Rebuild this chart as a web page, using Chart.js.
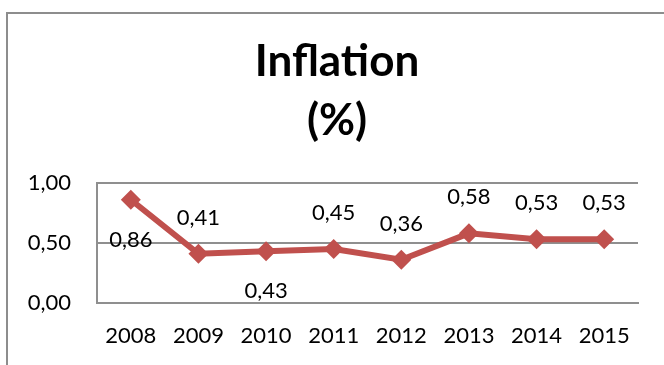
<!DOCTYPE html>
<html>
<head>
<meta charset="utf-8">
<script src="https://cdn.jsdelivr.net/npm/chart.js@4/dist/chart.umd.min.js"></script>
<style>
  html, body { margin: 0; padding: 0; background: #fff; overflow: hidden; }
  #wrap { position: relative; width: 664px; height: 365px; }
  #frame {
    position: absolute; left: 6px; top: 12px; width: 720px; height: 420px;
    border-top: 2px solid #8d8d8d; border-left: 2px solid #8d8d8d;
  }
  canvas { position: absolute; left: 0; top: 0; }
</style>
</head>
<body>
<div id="wrap">
  <div id="frame"></div>
  <canvas id="chart" width="664" height="365"></canvas>
</div>
<script>
// Annual inflation, %
const years = ['2008', '2009', '2010', '2011', '2012', '2013', '2014', '2015'];
const inflation = [0.86, 0.41, 0.43, 0.45, 0.36, 0.58, 0.53, 0.53];
const yTicks = [0, 0.5, 1];
// where each value label sits relative to its point
const labelSide = ['below', 'above', 'below', 'above', 'above', 'above', 'above', 'above'];

const RED = '#C0504D';
const GRID = '#8f8f8f';
const FONT = 'Lato, "Open Sans", sans-serif';

const fmt = v => v.toFixed(2).replace('.', ',');

const valueLabels = {
  id: 'valueLabels',
  afterDatasetsDraw(chart) {
    const ctx = chart.ctx;
    const meta = chart.getDatasetMeta(0);
    ctx.save();
    ctx.font = '22px ' + FONT;
    ctx.fillStyle = '#000';
    ctx.textAlign = 'center';
    ctx.textBaseline = 'middle';
    meta.data.forEach((pt, i) => {
      const dy = labelSide[i] === 'below' ? 40 : -36;
      ctx.fillText(fmt(inflation[i]), pt.x, pt.y + dy);
    });
    ctx.restore();
  }
};

// centre the title over the framed panel rather than the plot
const titleSpan = {
  id: 'titleSpan',
  afterLayout(chart) {
    const t = chart.titleBlock;
    if (t) { t.left = 10; t.right = 664; t.width = t.right - t.left; }
  }
};

new Chart(document.getElementById('chart'), {
  type: 'line',
  data: {
    labels: years,
    datasets: [{
      data: inflation,
      borderColor: RED,
      backgroundColor: RED,
      borderWidth: 6,
      tension: 0,
      pointStyle: 'rectRot',
      pointRadius: 10,
      pointHoverRadius: 10,
      pointBorderWidth: 0,
      pointBackgroundColor: RED
    }]
  },
  options: {
    responsive: false,
    animation: false,
    events: [],
    layout: { padding: { left: 0, right: 26, top: 0, bottom: 0 } },
    plugins: {
      legend: { display: false },
      tooltip: { enabled: false },
      title: {
        display: true,
        text: ['Inflation', '(%)'],
        color: '#000',
        font: { family: FONT, size: 44, weight: 'bold', lineHeight: 1.34 },
        padding: { top: 32, bottom: 33 }
      }
    },
    scales: {
      x: {
        offset: true,
        grid: { display: false, drawTicks: false },
        border: { display: true, color: GRID, width: 2 },
        ticks: { color: '#000', font: { family: FONT, size: 22 }, padding: 20, maxRotation: 0 },
        afterFit(scale) { scale.height = 62; }
      },
      y: {
        min: 0,
        max: 1,
        afterBuildTicks(scale) { scale.ticks = yTicks.map(v => ({ value: v })); },
        grid: { color: GRID, lineWidth: 2, drawTicks: false },
        border: { display: true, color: GRID, width: 2 },
        ticks: { color: '#000', font: { family: FONT, size: 22 }, padding: 26, callback: v => fmt(v) },
        afterFit(scale) { scale.width = 97; }
      }
    }
  },
  plugins: [valueLabels, titleSpan]
});
</script>
</body>
</html>
